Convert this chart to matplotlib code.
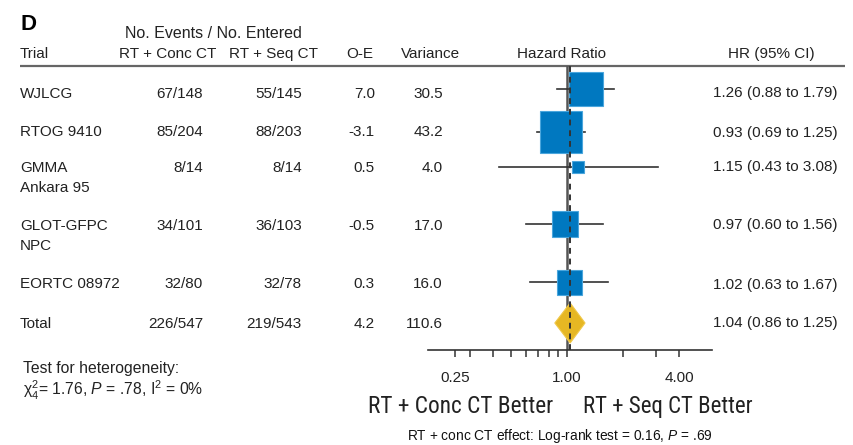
import numpy as np
import matplotlib.pyplot as plt
from matplotlib import font_manager
from matplotlib.patches import Polygon
from matplotlib.ticker import FixedLocator, NullFormatter, FixedFormatter

plt.rcParams['font.family'] = ['Liberation Sans', 'DejaVu Sans']
plt.rcParams['mathtext.fontset'] = 'custom'
plt.rcParams['mathtext.rm'] = 'Liberation Sans'
plt.rcParams['mathtext.it'] = 'Liberation Sans:italic'

# Use a condensed face for the footer labels when one is installed
installed = {f.name for f in font_manager.fontManager.ttflist}
narrow_pref = ['Liberation Sans Narrow', 'Roboto Condensed', 'Open Sans Condensed',
               'Noto Sans Condensed', 'DejaVu Sans Condensed']
NARROW = [n for n in narrow_pref if n in installed] + ['Liberation Sans', 'DejaVu Sans']

# Trial data
trials = ["WJLCG", "RTOG 9410", "GMMA\nAnkara 95", "GLOT-GFPC\nNPC", "EORTC 08972", "Total"]
conc_events = [67, 85, 8, 34, 32, 226]
conc_entered = [148, 204, 14, 101, 80, 547]
seq_events = [55, 88, 8, 36, 32, 219]
seq_entered = [145, 203, 14, 103, 78, 543]
o_minus_e = [7.0, -3.1, 0.5, -0.5, 0.3, 4.2]
variance = [30.5, 43.2, 4.0, 17.0, 16.0, 110.6]
hr = [1.26, 0.93, 1.15, 0.97, 1.02, 1.04]
ci_low = [0.88, 0.69, 0.43, 0.60, 0.63, 0.86]
ci_high = [1.79, 1.25, 3.08, 1.56, 1.67, 1.25]

major_ticks = [0.25, 1.0, 4.0]
minor_ticks = [0.3, 0.4, 0.5, 0.6, 0.7, 0.8, 0.9, 2.0, 3.0]

# Layout in pixels (figure is 854 x 445)
W, H = 854, 445
text_base = [97.5, 136.5, 171.5, 229.5, 288.5, 327.5]
mark_y = [89.5, 132, 167.5, 224.5, 282.5, 323]
line_gap = 20
ax_left, ax_right = 428, 712
ax_top, ax_bottom = 66, 350
x_one = 567
px_per_doubling = 56

BLUE = '#0078c0'
BLUE_EDGE = '#4aa6dd'
GOLD = '#e6b723'
DARK = '#333333'
INK = '#222222'

fig = plt.figure(figsize=(W / 100, H / 100), dpi=100)
renderer = fig.canvas.get_renderer()


def fit_width(t, width):
    # scale the font so the label spans the given pixel width
    w = t.get_window_extent(renderer).width
    t.set_fontsize(t.get_fontsize() * width / w)
    return t.get_fontsize()


# Background axes in pixel coordinates for the table text
bg = fig.add_axes([0, 0, 1, 1])
bg.set_xlim(0, W)
bg.set_ylim(H, 0)
bg.axis('off')

fs = 11
bg.text(21, 30, "D", fontsize=16, fontweight='bold', va='baseline')
bg.text(213, 38, "No. Events / No. Entered", fontsize=11.5, ha='center', va='baseline', color=INK)
header = [("Trial", 20, 'left'), ("RT + Conc CT", 168, 'center'), ("RT + Seq CT", 274, 'center'),
          ("O-E", 360, 'center'), ("Variance", 431, 'center'), ("Hazard Ratio", 562, 'center'),
          ("HR (95% CI)", 771, 'center')]
for label, x, ha in header:
    bg.text(x, 58, label, fontsize=fs, ha=ha, va='baseline', color=INK)
bg.plot([20, 845], [66, 66], color='#666666', lw=1.6, solid_capstyle='butt')

for i, name in enumerate(trials):
    yb = text_base[i]
    for k, part in enumerate(name.split("\n")):
        bg.text(20, yb + k * line_gap, part, fontsize=fs, va='baseline', color=INK)
    bg.text(203, yb, f"{conc_events[i]}/{conc_entered[i]}", fontsize=fs, ha='right', va='baseline', color=INK)
    bg.text(302, yb, f"{seq_events[i]}/{seq_entered[i]}", fontsize=fs, ha='right', va='baseline', color=INK)
    bg.text(375, yb, f"{o_minus_e[i]:.1f}", fontsize=fs, ha='right', va='baseline', color=INK)
    bg.text(443, yb, f"{variance[i]:.1f}", fontsize=fs, ha='right', va='baseline', color=INK)
    bg.text(838, yb, f"{hr[i]:.2f} ({ci_low[i]:.2f} to {ci_high[i]:.2f})", fontsize=fs,
            ha='right', va='baseline', color=INK)

bg.text(23, 373, "Test for heterogeneity:", fontsize=11.3, va='baseline', color=INK)
bg.text(23, 395, r"χ$^2_4$= 1.76, $P$ = .78, I$^2$ = 0%", fontsize=11.3, va='baseline', color=INK)

left_lab = bg.text(368, 413, "RT + Conc CT Better", fontsize=16, family=NARROW, va='baseline', color=INK)
fit_width(left_lab, 185)
right_lab = bg.text(583, 413, "RT + Seq CT Better", fontsize=16, family=NARROW, va='baseline', color=INK)
fit_width(right_lab, 170)
foot = bg.text(407, 440, r"RT + conc CT effect: Log-rank test = 0.16, $P$ = .69", fontsize=9,
               va='baseline', color='#111111')
fit_width(foot, 306)

# Forest plot axes on a log2 scale
ax = fig.add_axes([ax_left / W, 1 - ax_bottom / H, (ax_right - ax_left) / W, (ax_bottom - ax_top) / H])
ax.patch.set_visible(False)
ax.set_xscale('log', base=2)
ax.set_xlim(2 ** ((ax_left - x_one) / px_per_doubling), 2 ** ((ax_right - x_one) / px_per_doubling))
ax.set_ylim(ax_bottom, ax_top)
for side in ['top', 'left', 'right']:
    ax.spines[side].set_visible(False)
ax.spines['bottom'].set_color(DARK)
ax.spines['bottom'].set_linewidth(1.2)
ax.set_yticks([])
ax.xaxis.set_major_locator(FixedLocator(major_ticks))
ax.xaxis.set_major_formatter(FixedFormatter([f"{t:.2f}" for t in major_ticks]))
ax.xaxis.set_minor_locator(FixedLocator(minor_ticks))
ax.xaxis.set_minor_formatter(NullFormatter())
ax.tick_params(axis='x', which='both', direction='out', length=5, width=1.1, color=DARK,
               labelsize=11, pad=10, labelcolor=INK)

ax.axvline(1.0, color='#555555', lw=1.8, zorder=1)
ax.axvline(hr[-1], color=DARK, lw=1.4, ls=(0, (3, 2.5)), zorder=4)

for i in range(len(trials) - 1):
    ax.plot([ci_low[i], ci_high[i]], [mark_y[i], mark_y[i]], color=DARK, lw=1.2, zorder=2)
    side = 6.25 * np.sqrt(variance[i]) * 0.72
    ax.plot(hr[i], mark_y[i], marker='s', ms=side, color=BLUE, mec=BLUE_EDGE, mew=0.8, zorder=3)

# Pooled estimate as a diamond
yt = mark_y[-1]
diamond = Polygon([(ci_low[-1], yt), (hr[-1], yt - 20), (ci_high[-1], yt), (hr[-1], yt + 20)],
                  closed=True, facecolor=GOLD, edgecolor='#f0c84a', lw=0.8, zorder=3)
ax.add_patch(diamond)

fig.savefig("out.png", dpi=100)
